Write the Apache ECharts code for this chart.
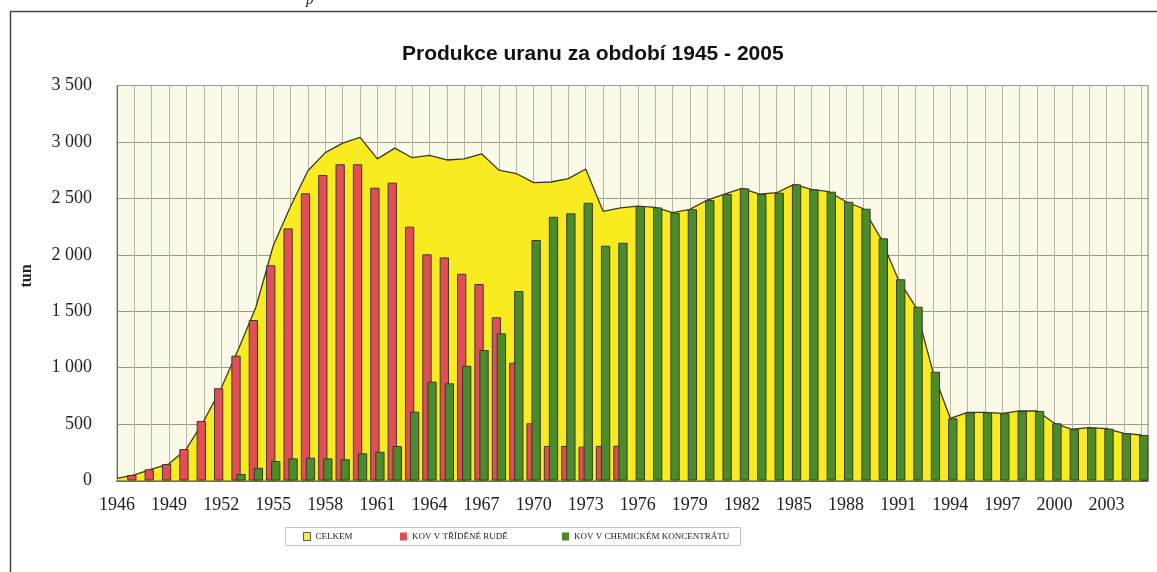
<!DOCTYPE html>
<html>
<head>
<meta charset="utf-8">
<script src="https://cdn.jsdelivr.net/npm/echarts@6/dist/echarts.min.js"></script>
<style>
html,body{margin:0;padding:0;background:#fff;}
#c{width:1157px;height:572px;}
</style>
</head>
<body>
<div id="c"></div>
<script>
// ---- data (tonnes of uranium) ----
const years = [1946,1947,1948,1949,1950,1951,1952,1953,1954,1955,1956,1957,1958,1959,1960,1961,1962,1963,1964,1965,1966,1967,1968,1969,1970,1971,1972,1973,1974,1975,1976,1977,1978,1979,1980,1981,1982,1983,1984,1985,1986,1987,1988,1989,1990,1991,1992,1993,1994,1995,1996,1997,1998,1999,2000,2001,2002,2003,2004,2005];
// CELKEM (total)
const celkem = [18,50,100,148,280,528,818,1165,1535,2080,2430,2745,2905,2990,3040,2850,2945,2860,2880,2840,2850,2895,2750,2720,2640,2645,2675,2760,2385,2415,2432,2420,2373,2403,2485,2538,2589,2538,2550,2624,2580,2559,2470,2408,2146,1783,1540,964,551,604,604,595,616,616,507,454,468,459,418,403];
// KOV V TŘÍDĚNÉ RUDĚ (1947-1975)
const rudaYears = [1947,1948,1949,1950,1951,1952,1953,1954,1955,1956,1957,1958,1959,1960,1961,1962,1963,1964,1965,1966,1967,1968,1969,1970,1971,1972,1973,1974,1975];
const ruda = [49,99,146,279,527,817,1106,1422,1907,2234,2545,2707,2802,2802,2594,2639,2249,2004,1977,1832,1741,1446,1044,507,306,306,300,306,308];
// KOV V CHEMICKÉM KONCENTRÁTU (1953-2005)
const konYears = [1953,1954,1955,1956,1957,1958,1959,1960,1961,1962,1963,1964,1965,1966,1967,1968,1969,1970,1971,1972,1973,1974,1975,1976,1977,1978,1979,1980,1981,1982,1983,1984,1985,1986,1987,1988,1989,1990,1991,1992,1993,1994,1995,1996,1997,1998,1999,2000,2001,2002,2003,2004,2005];
const koncentrat = [58,113,173,196,202,196,188,241,255,306,610,876,861,1017,1156,1304,1679,2131,2337,2367,2461,2080,2107,2432,2420,2373,2403,2485,2538,2589,2538,2550,2624,2580,2559,2470,2408,2146,1783,1540,964,551,604,604,595,616,616,507,454,468,459,418,403];
const yTicks = [0,500,1000,1500,2000,2500,3000,3500];
const labelYears = [1946,1949,1952,1955,1958,1961,1964,1967,1970,1973,1976,1979,1982,1985,1988,1991,1994,1997,2000,2003];

const title = 'Produkce uranu za období 1945 - 2005';
const nameTotal = 'CELKEM';
const nameRuda = 'KOV V TŘÍDĚNÉ RUDĚ';
const nameKon = 'KOV V CHEMICKÉM KONCENTRÁTU';

const YELLOW = '#f8eb1f', RED = '#e24d58', GREEN = '#4a8b2d', EDGE = '#3c3a26';

const pair = (xs, vs) => xs.map((x, i) => [x, vs[i]]);
const fmtY = v => v >= 1000 ? Math.floor(v / 1000) + ' ' + String(v % 1000).padStart(3, '0') : String(v);

const chart = echarts.init(document.getElementById('c'), null, {renderer: 'canvas'});
const legendText = {fontFamily: 'Liberation Serif', fontSize: 9, color: '#222'};
const mkLegend = (name, left, style) => ({
  left: left, top: 532, padding: 0, itemWidth: 7, itemHeight: 8, itemGap: 0,
  icon: 'rect', textStyle: legendText, selectedMode: false,
  data: [{name: name, icon: 'rect', itemStyle: style}]
});

chart.setOption({
  backgroundColor: '#ffffff',
  animation: false,
  title: {
    text: title, left: 397, top: 39,
    textStyle: {fontFamily: 'Liberation Sans', fontWeight: 'bold', fontSize: 21, color: '#111'}
  },
  legend: [
    mkLegend(nameTotal, 303, {color: YELLOW, borderColor: '#333', borderWidth: 1}),
    mkLegend(nameRuda, 400, {color: RED, borderWidth: 0}),
    mkLegend(nameKon, 562, {color: GREEN, borderWidth: 0})
  ],
  graphic: [
    {type: 'rect', z: -10, shape: {x: 10.5, y: 11.5, width: 1300, height: 700}, style: {fill: 'none', stroke: '#444', lineWidth: 1.5}},
    {type: 'rect', z: -10, shape: {x: 285.5, y: 527.5, width: 455, height: 18}, style: {fill: 'none', stroke: '#c4c4c4', lineWidth: 1}},
    {type: 'text', x: 27, y: 276, rotation: Math.PI / 2,
     style: {text: 'tun', fontFamily: 'Liberation Serif', fontWeight: 'bold', fontSize: 16, fill: '#222', align: 'center', verticalAlign: 'middle'}},
    {type: 'text', x: 306, y: -7, style: {text: 'p', fontFamily: 'Liberation Serif', fontStyle: 'italic', fontSize: 15, fill: '#222'}}
  ],
  grid: {left: 117, right: 9, top: 85.5, bottom: 91.5, show: true, backgroundColor: '#fbf9e8', borderColor: '#8c897a', borderWidth: 1},
  xAxis: {
    type: 'value', min: 1946, max: 2005.39, interval: 1,
    axisLine: {show: true, onZero: false, lineStyle: {color: '#3a3a3a', width: 1.5}},
    axisTick: {show: false},
    splitLine: {show: true, lineStyle: {color: '#b9b5a3', width: 1}},
    axisLabel: {
      margin: 16, fontFamily: 'Liberation Serif', fontSize: 18, color: '#222',
      showMaxLabel: false,
      formatter: v => labelYears.indexOf(v) >= 0 ? String(v) : ''
    }
  },
  yAxis: {
    type: 'value', min: 0, max: 3500, interval: 500,
    axisLine: {show: true, lineStyle: {color: '#6e6b5e', width: 1}},
    axisTick: {show: false},
    splitLine: {show: true, lineStyle: {color: '#9c998a', width: 1}},
    axisLabel: {
      margin: 25, fontFamily: 'Liberation Serif', fontSize: 18, color: '#222',
      formatter: v => yTicks.indexOf(v) >= 0 ? fmtY(v) : ''
    }
  },
  series: [
    {
      name: 'celkem-area', type: 'line', data: pair(years, celkem),
      showSymbol: false, symbol: 'none', smooth: false, z: 2, clip: true,
      lineStyle: {color: EDGE, width: 1.3},
      areaStyle: {color: YELLOW, opacity: 1},
      itemStyle: {color: YELLOW}
    },
    {
      name: nameTotal, type: 'scatter', data: [], symbol: 'rect',
      itemStyle: {color: YELLOW, borderColor: '#333', borderWidth: 1}
    },
    {
      name: nameRuda, type: 'bar', data: pair(rudaYears, ruda), z: 3, clip: true,
      barWidth: 9.3, barGap: '-46%',
      itemStyle: {color: RED, borderColor: EDGE, borderWidth: 1}
    },
    {
      name: nameKon, type: 'bar', data: pair(konYears, koncentrat), z: 4, clip: true,
      barWidth: 9.3, barGap: '-46%',
      itemStyle: {color: GREEN, borderColor: EDGE, borderWidth: 1}
    }
  ]
});
</script>
</body>
</html>
